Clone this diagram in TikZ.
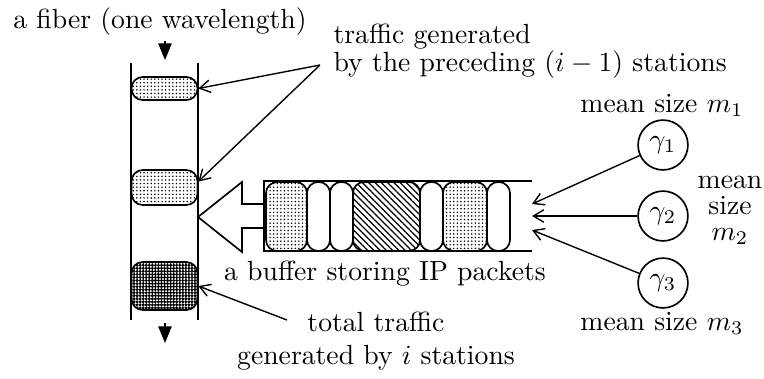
\documentclass[tikz,border=0pt]{standalone}
\usetikzlibrary{arrows.meta, patterns.meta, positioning}
\tikzset{
    fiberline/.style={line width=0.6pt},
    pkt/.style={draw, line width=0.6pt, rounded corners=4pt, inner sep=0pt},
    lightpkt/.style={pkt, pattern={Dots[distance=1.3pt, radius=0.3pt]}},
    darkpkt/.style={pkt, pattern={Dots[distance=1.1pt, radius=0.6pt]}},
    hatchpkt/.style={pkt, pattern={Lines[angle=-45, distance=1.6pt, line width=0.45pt]}},
    emptypkt/.style={pkt, fill=white, minimum width=8.3pt, minimum height=24.9pt},
    station/.style={circle, draw, line width=0.6pt, minimum size=18pt, inner sep=0pt},
    txt/.style={inner sep=0pt},
    pointer/.style={-{Straight Barb[length=3.8pt, width=4.5pt]}, line width=0.5pt},
    flow/.style={-{Triangle[length=6pt, width=4.8pt]}, line width=0.6pt},
}

\begin{document}
\begin{tikzpicture}[x=0.361pt, y=-0.361pt]
\useasboundingbox (0,0) rectangle (764,378);

% Fiber
\draw[fiberline] (131,63) -- (131,320);
\draw[fiberline] (198,63) -- (198,320);
\coordinate (fibtop) at (165,41);
\coordinate (fibin) at (165,60);
\coordinate (fibout) at (165,323);
\coordinate (fibend) at (165,343);
\draw[flow] (fibtop) -- (fibin);
\draw[flow] (fibout) -- (fibend);

% Packets on the fiber
\node[lightpkt, minimum width=23.8pt, minimum height=8.3pt] (pk1) at (164.5,88.5) {};
\node[lightpkt, minimum width=23.8pt, minimum height=12.6pt] (pk2) at (164.5,187.5) {};
\node[darkpkt, minimum width=23.8pt, minimum height=17.3pt] (pk3) at (164.5,286) {};

% Buffer
\draw[fiberline] (532,181) -- (264,181) -- (264,251) -- (532,251);
\node[lightpkt, minimum width=14.8pt, minimum height=24.9pt] (bfa) at (286.5,216.5) {};
\node[emptypkt] (bfb) at (318.5,216.5) {};
\node[emptypkt] (bfc) at (341.5,216.5) {};
\node[hatchpkt, minimum width=24.2pt, minimum height=24.9pt] (bfd) at (386.5,216.5) {};
\node[emptypkt] (bfe) at (431.5,216.5) {};
\node[lightpkt, minimum width=15.9pt, minimum height=24.9pt] (bff) at (465,216.5) {};
\node[emptypkt] (bfg) at (498.5,216.5) {};

% Hollow arrow from buffer into fiber
\draw[fiberline, fill=white] (198,217) -- (242,182) -- (242,204) -- (264,204)
    -- (264,228) -- (242,228) -- (242,252) -- cycle;

% Stations
\node[station] (g1) at (663,145) {$\gamma_1$};
\node[station] (g2) at (663,216) {$\gamma_2$};
\node[station] (g3) at (663,283) {$\gamma_3$};
\coordinate (bufin1) at (532,204);
\coordinate (bufin2) at (532,216);
\coordinate (bufin3) at (532,230);
\draw[pointer] (g1) -- (bufin1);
\draw[pointer] (g2) -- (bufin2);
\draw[pointer] (g3) -- (bufin3);

% Labels
\node[txt] (fiberlbl) at (160,22) {a fiber (one wavelength)};
\node[txt, anchor=west, align=left] (traffic) at (333,51) {traffic generated\\[-2pt]by the preceding $(i-1)$ stations};
\node[txt] (buflbl) at (385,274) {a buffer storing IP packets};
\node[txt, align=center] (total) at (376,341) {total traffic\\generated by $i$ stations};
\node[txt] (m1) at (662,105) {mean size $m_1$};
\node[txt, align=center] (m2) at (730,210) {mean\\[-2.6pt]size\\[-2.6pt]$m_2$};
\node[txt] (m3) at (662,323) {mean size $m_3$};

% Pointers from labels
\coordinate (trafsrc) at (320,65);
\coordinate (totsrc) at (287,320);
\draw[pointer] (trafsrc) -- (pk1.east);
\draw[pointer] (trafsrc) -- (pk2.10);
\draw[pointer] (totsrc) -- (pk3.east);

\end{tikzpicture}
\end{document}
